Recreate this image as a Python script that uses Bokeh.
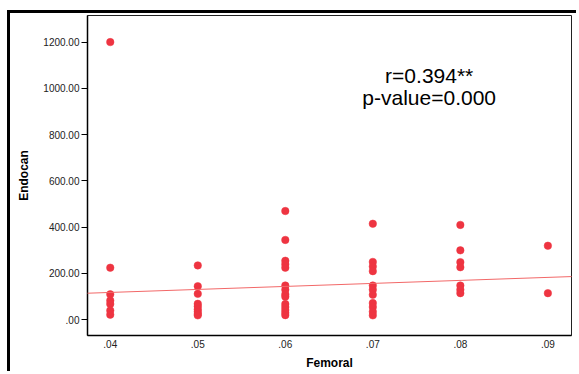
from bokeh.plotting import figure
from bokeh.models import FixedTicker, Label, Slope
from bokeh.embed import file_html
from bokeh.resources import INLINE

# ---- data ----
femoral_04 = [1200, 225, 110, 83, 68, 40, 22]
femoral_05 = [235, 145, 112, 69, 58, 45, 35, 25, 19]
femoral_06 = [470, 345, 255, 240, 225, 148, 130, 110, 100, 68, 55, 42, 30, 20]
femoral_07 = [415, 250, 230, 210, 148, 130, 108, 72, 55, 35, 19]
femoral_08 = [410, 300, 249, 227, 148, 130, 115]
femoral_09 = [320, 115]
femoral_levels = [0.04, 0.05, 0.06, 0.07, 0.08, 0.09]
x_tick_labels = [".04", ".05", ".06", ".07", ".08", ".09"]
y_ticks = [0, 200, 400, 600, 800, 1000, 1200]
y_tick_labels = [".00", "200.00", "400.00", "600.00", "800.00", "1000.00", "1200.00"]
fit_intercept = 66.0
fit_slope = 1302.0
stat_lines = ["r=0.394**", "p-value=0.000"]

groups = [femoral_04, femoral_05, femoral_06, femoral_07, femoral_08, femoral_09]
xs, ys = [], []
for lvl, vals in zip(femoral_levels, groups):
    xs += [lvl] * len(vals)
    ys += vals

p = figure(width=569, height=361, output_backend="svg", toolbar_location=None,
           x_range=(0.0374, 0.0927), y_range=(-68, 1315),
           min_border_left=77, min_border_right=8, min_border_top=2, min_border_bottom=39)
p.margin = (10, 0, 0, 7)
p.styles = {"border-top": "3px solid black", "border-left": "3px solid black"}
p.background_fill_color = "white"
p.border_fill_color = "white"
p.grid.visible = False
p.outline_line_color = "#222222"
p.outline_line_width = 1

p.add_layout(Slope(gradient=fit_slope, y_intercept=fit_intercept,
                   line_color="#f26868", line_width=1))
p.scatter(xs, ys, size=7.5, fill_color="#ee3441", line_color="#ee3441", line_width=0.5)

font = "Liberation Sans"
p.xaxis.ticker = FixedTicker(ticks=femoral_levels)
p.xaxis.major_label_overrides = {k: v for k, v in zip(femoral_levels, x_tick_labels)}
p.yaxis.ticker = FixedTicker(ticks=y_ticks)
p.yaxis.major_label_overrides = {k: v for k, v in zip(y_ticks, y_tick_labels)}
for ax in (p.xaxis, p.yaxis):
    ax.minor_tick_line_color = None
    ax.axis_line_color = "black"
    ax.axis_line_width = 1.5
    ax.major_tick_line_color = "black"
    ax.major_tick_in = 0
    ax.major_label_text_font = font
    ax.major_label_text_font_size = "10px"
    ax.major_label_text_color = "#222222"
    ax.axis_label_text_font = font
    ax.axis_label_text_font_style = "bold"
    ax.axis_label_text_font_size = "12px"
    ax.axis_label_text_color = "black"
p.yaxis.major_tick_out = 6
p.yaxis.major_label_standoff = 2
p.yaxis.axis_label = "Endocan"
p.yaxis.axis_label_standoff = 9
p.xaxis.major_tick_out = 0
p.xaxis.major_label_standoff = 4
p.xaxis.axis_label = "Femoral"
p.xaxis.axis_label_standoff = 5

p.add_layout(Label(x=0.07644, y=1056, text=stat_lines[0], text_align="center",
                   text_baseline="alphabetic", text_font=font, text_font_size="21px",
                   text_color="black"))
p.add_layout(Label(x=0.07644, y=962, text=stat_lines[1], text_align="center",
                   text_baseline="alphabetic", text_font=font, text_font_size="21px",
                   text_color="black"))

open("out.html", "w").write(file_html(p, INLINE))
